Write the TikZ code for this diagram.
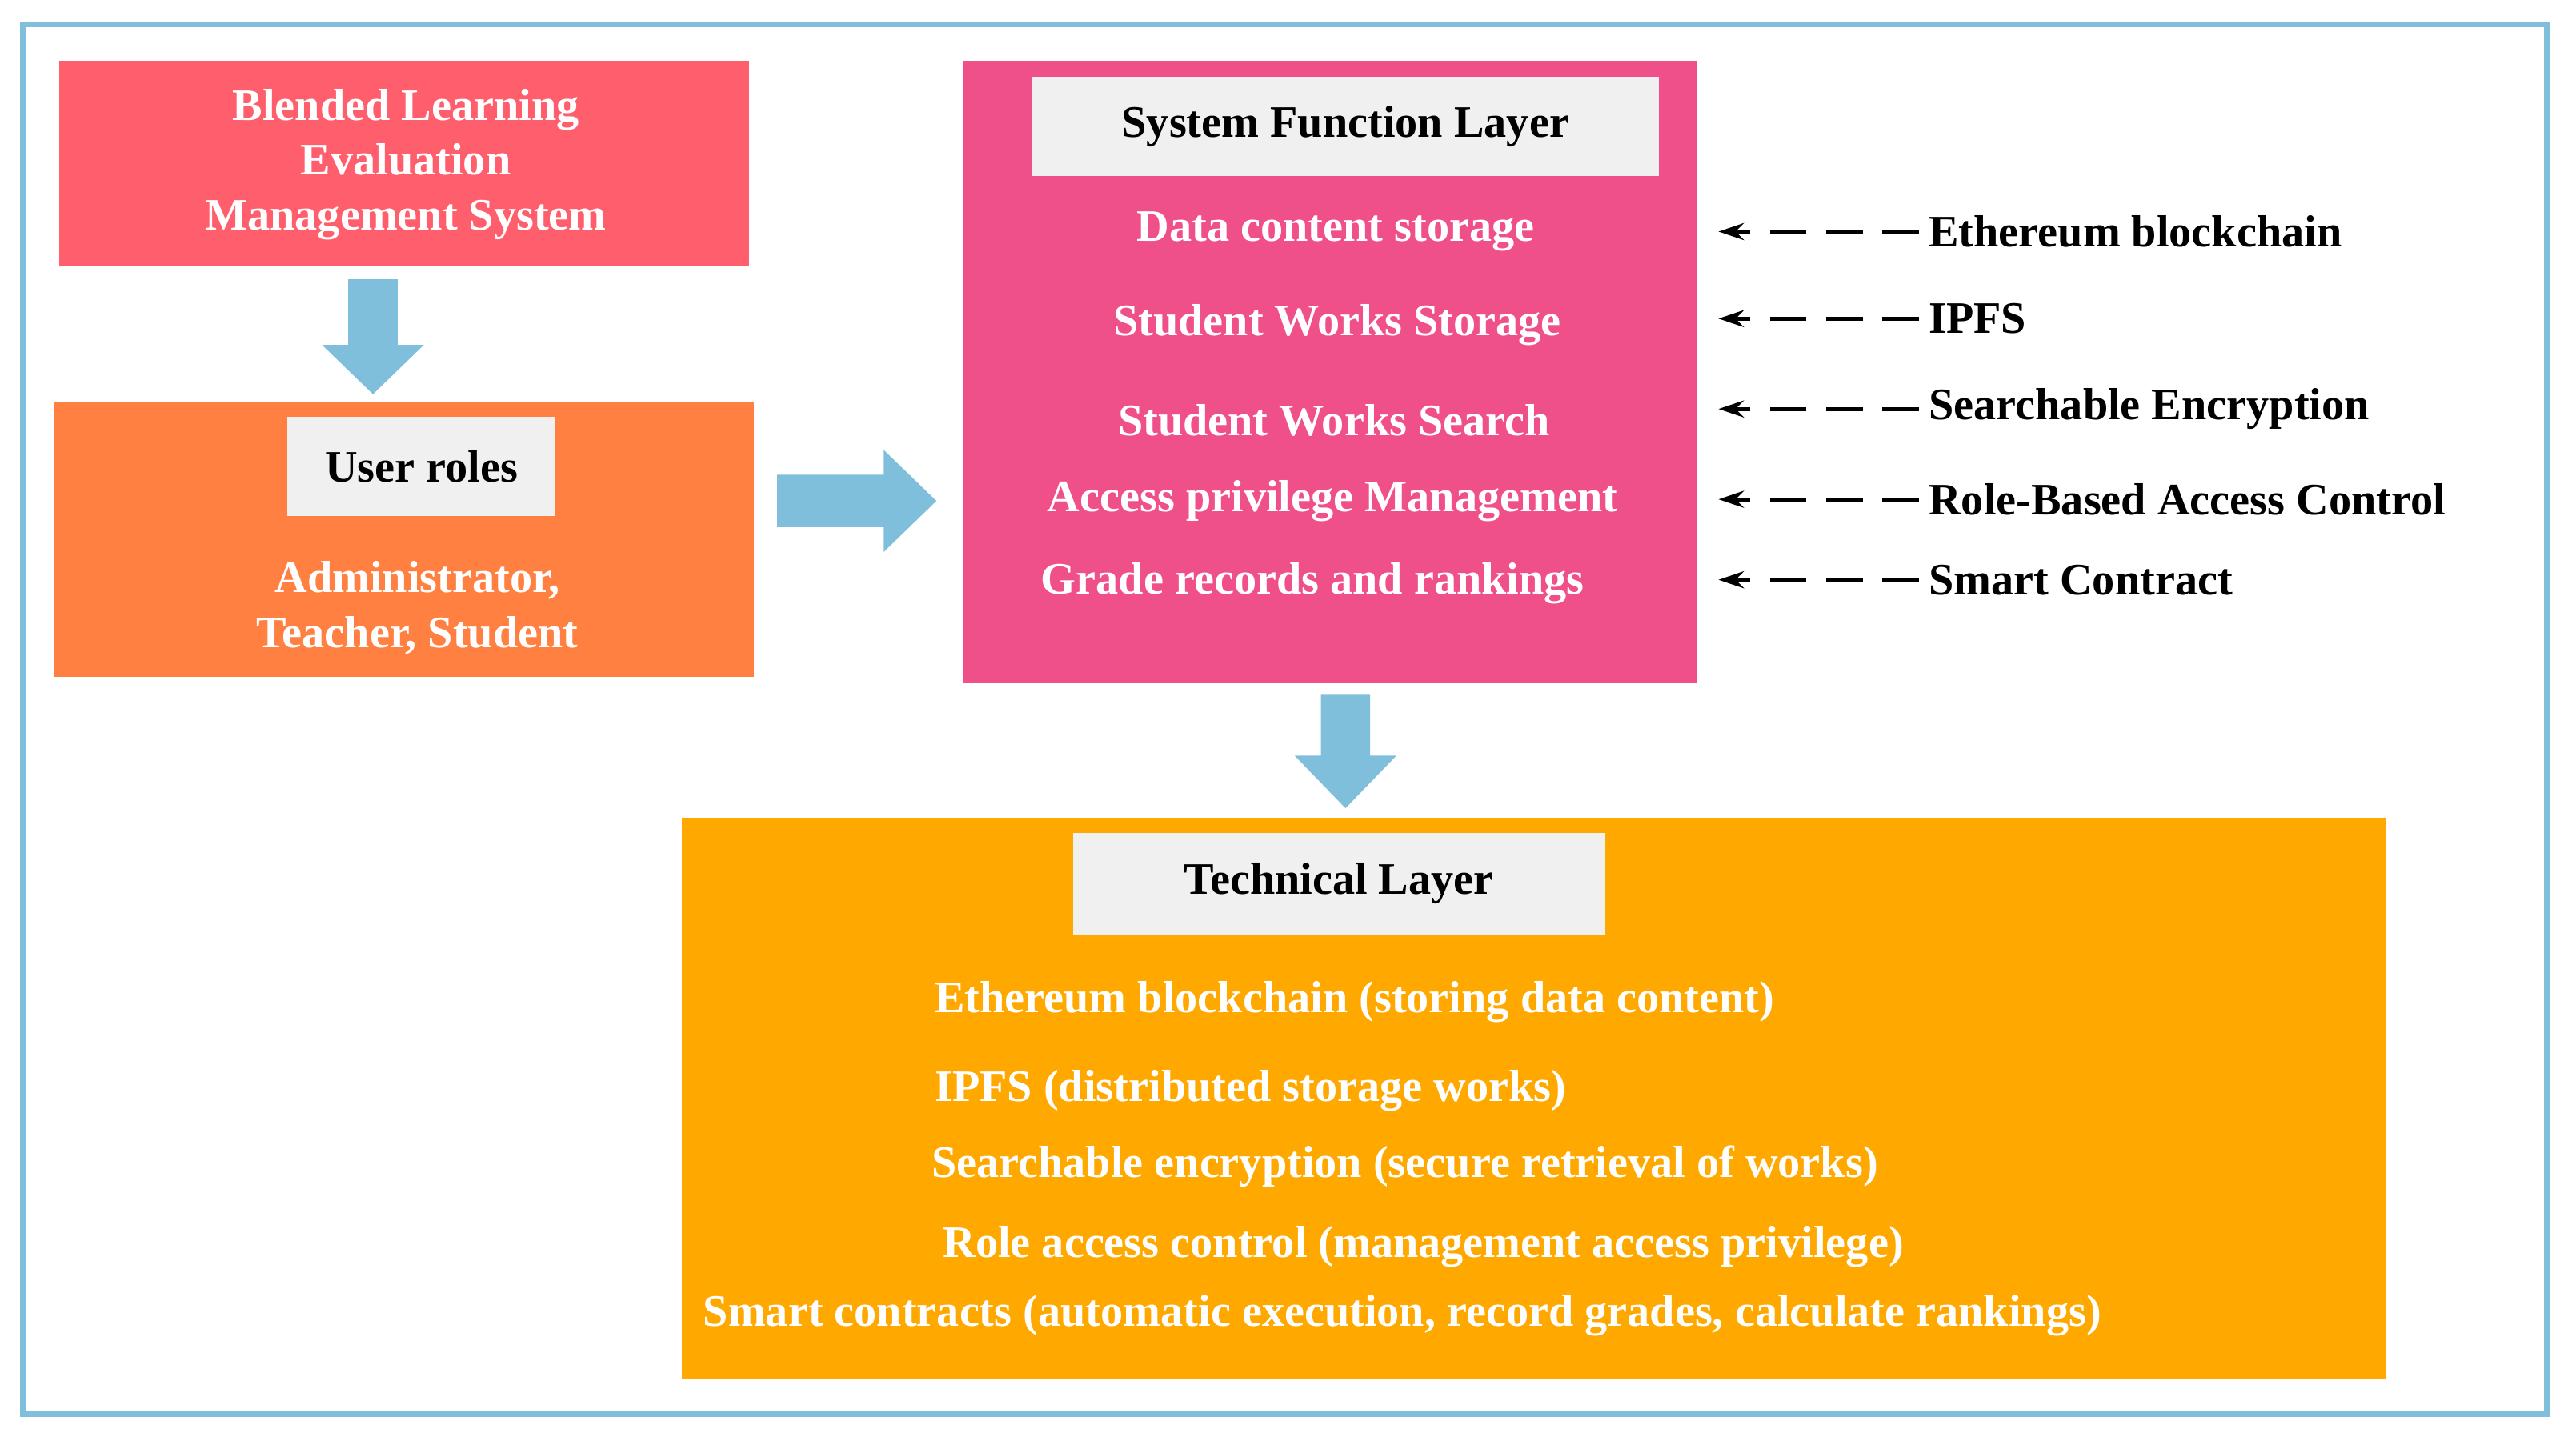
\documentclass[tikz,border=0pt]{standalone}
\usepackage{fontspec}
\setmainfont{Liberation Serif}
\usetikzlibrary{arrows.meta}
\definecolor{frame}{HTML}{7FBFDC}
\definecolor{cred}{HTML}{FF5F6D}
\definecolor{corg}{HTML}{FF8040}
\definecolor{cpink}{HTML}{F0508A}
\definecolor{cyel}{HTML}{FFA800}
\definecolor{lab}{HTML}{F0F0F0}
\begin{document}
\begin{tikzpicture}[x=0.02053cm,y=-0.02053cm,
  txt/.style={text=white,font=\fontsize{16}{19.5}\selectfont\bfseries,align=center},
  lbl/.style={fill=lab,font=\fontsize{16}{19}\selectfont\bfseries,text=black},
  blk/.style={fill=frame,draw=none},
  darr/.style={-{Stealth[length=9pt,width=6pt]},line width=1.4pt,dash pattern=on 13pt off 7pt},
  side/.style={anchor=west,font=\fontsize{16}{19}\selectfont\bfseries}]
\useasboundingbox (0,0) rectangle (1568,876.8);
\draw[frame,line width=2pt] (14,15) rectangle (1550,861);
% box 1
\fill[cred] (36,37) rectangle (456,162);
\node[txt] (b1) at (247,100) {Blended Learning\\Evaluation\\Management System};
% arrow down 1
\fill[blk] (212,170) -- (242,170) -- (242,210) -- (258,210) -- (227,240) -- (196,210) -- (212,210) -- cycle;
% box 2
\fill[corg] (33,245) rectangle (459,412);
\node[lbl,minimum width=163*0.02053cm,minimum height=60*0.02053cm] (ur) at (256.5,284) {User roles};
\node[txt] (roles) at (254,370) {Administrator,\\Teacher, Student};
% right arrow
\fill[blk] (473,289) -- (538,289) -- (538,274) -- (570,305) -- (538,336) -- (538,321) -- (473,321) -- cycle;
% box 3
\fill[cpink] (586,37) rectangle (1033,416);
\node[lbl,minimum width=382*0.02053cm,minimum height=60*0.02053cm] (sfl) at (819,77) {System Function Layer};
\node[txt] (f1) at (813,141) {Data content storage};
\node[txt] (f2) at (814,198) {Student Works Storage};
\node[txt] (f3) at (812,256) {Student Works Search};
\node[txt] (f4) at (811,305) {Access privilege Management};
\node[txt] (f5) at (799,355) {Grade records and rankings};
% side labels
\foreach \n/\y/\t in {s1/141/Ethereum blockchain,s2/194/IPFS,s3/249/Searchable Encryption,s4/304/Role-Based Access Control,s5/353/Smart Contract}{
  \node[side] (\n) at (1168,\y) {\t};
  \coordinate (e\n) at (1046,\y);
  \draw[darr] (\n.west) -- (e\n);
}
% arrow down 2
\fill[blk] (804,423) -- (834,423) -- (834,460) -- (850,460) -- (819,492) -- (788,460) -- (804,460) -- cycle;
% box 4
\fill[cyel] (415,498) rectangle (1452,840);
\node[lbl,minimum width=324*0.02053cm,minimum height=62*0.02053cm] (tl) at (815,538) {Technical Layer};
\node[txt,anchor=west] (t1) at (563,610) {Ethereum blockchain (storing data content)};
\node[txt,anchor=west] (t2) at (563,664) {IPFS (distributed storage works)};
\node[txt,anchor=west] (t3) at (561,710) {Searchable encryption (secure retrieval of works)};
\node[txt,anchor=west] (t4) at (568,759) {Role access control (management access privilege)};
\node[txt,anchor=west] (t5) at (422,801) {Smart contracts (automatic execution, record grades, calculate rankings)};
\end{tikzpicture}
\end{document}
